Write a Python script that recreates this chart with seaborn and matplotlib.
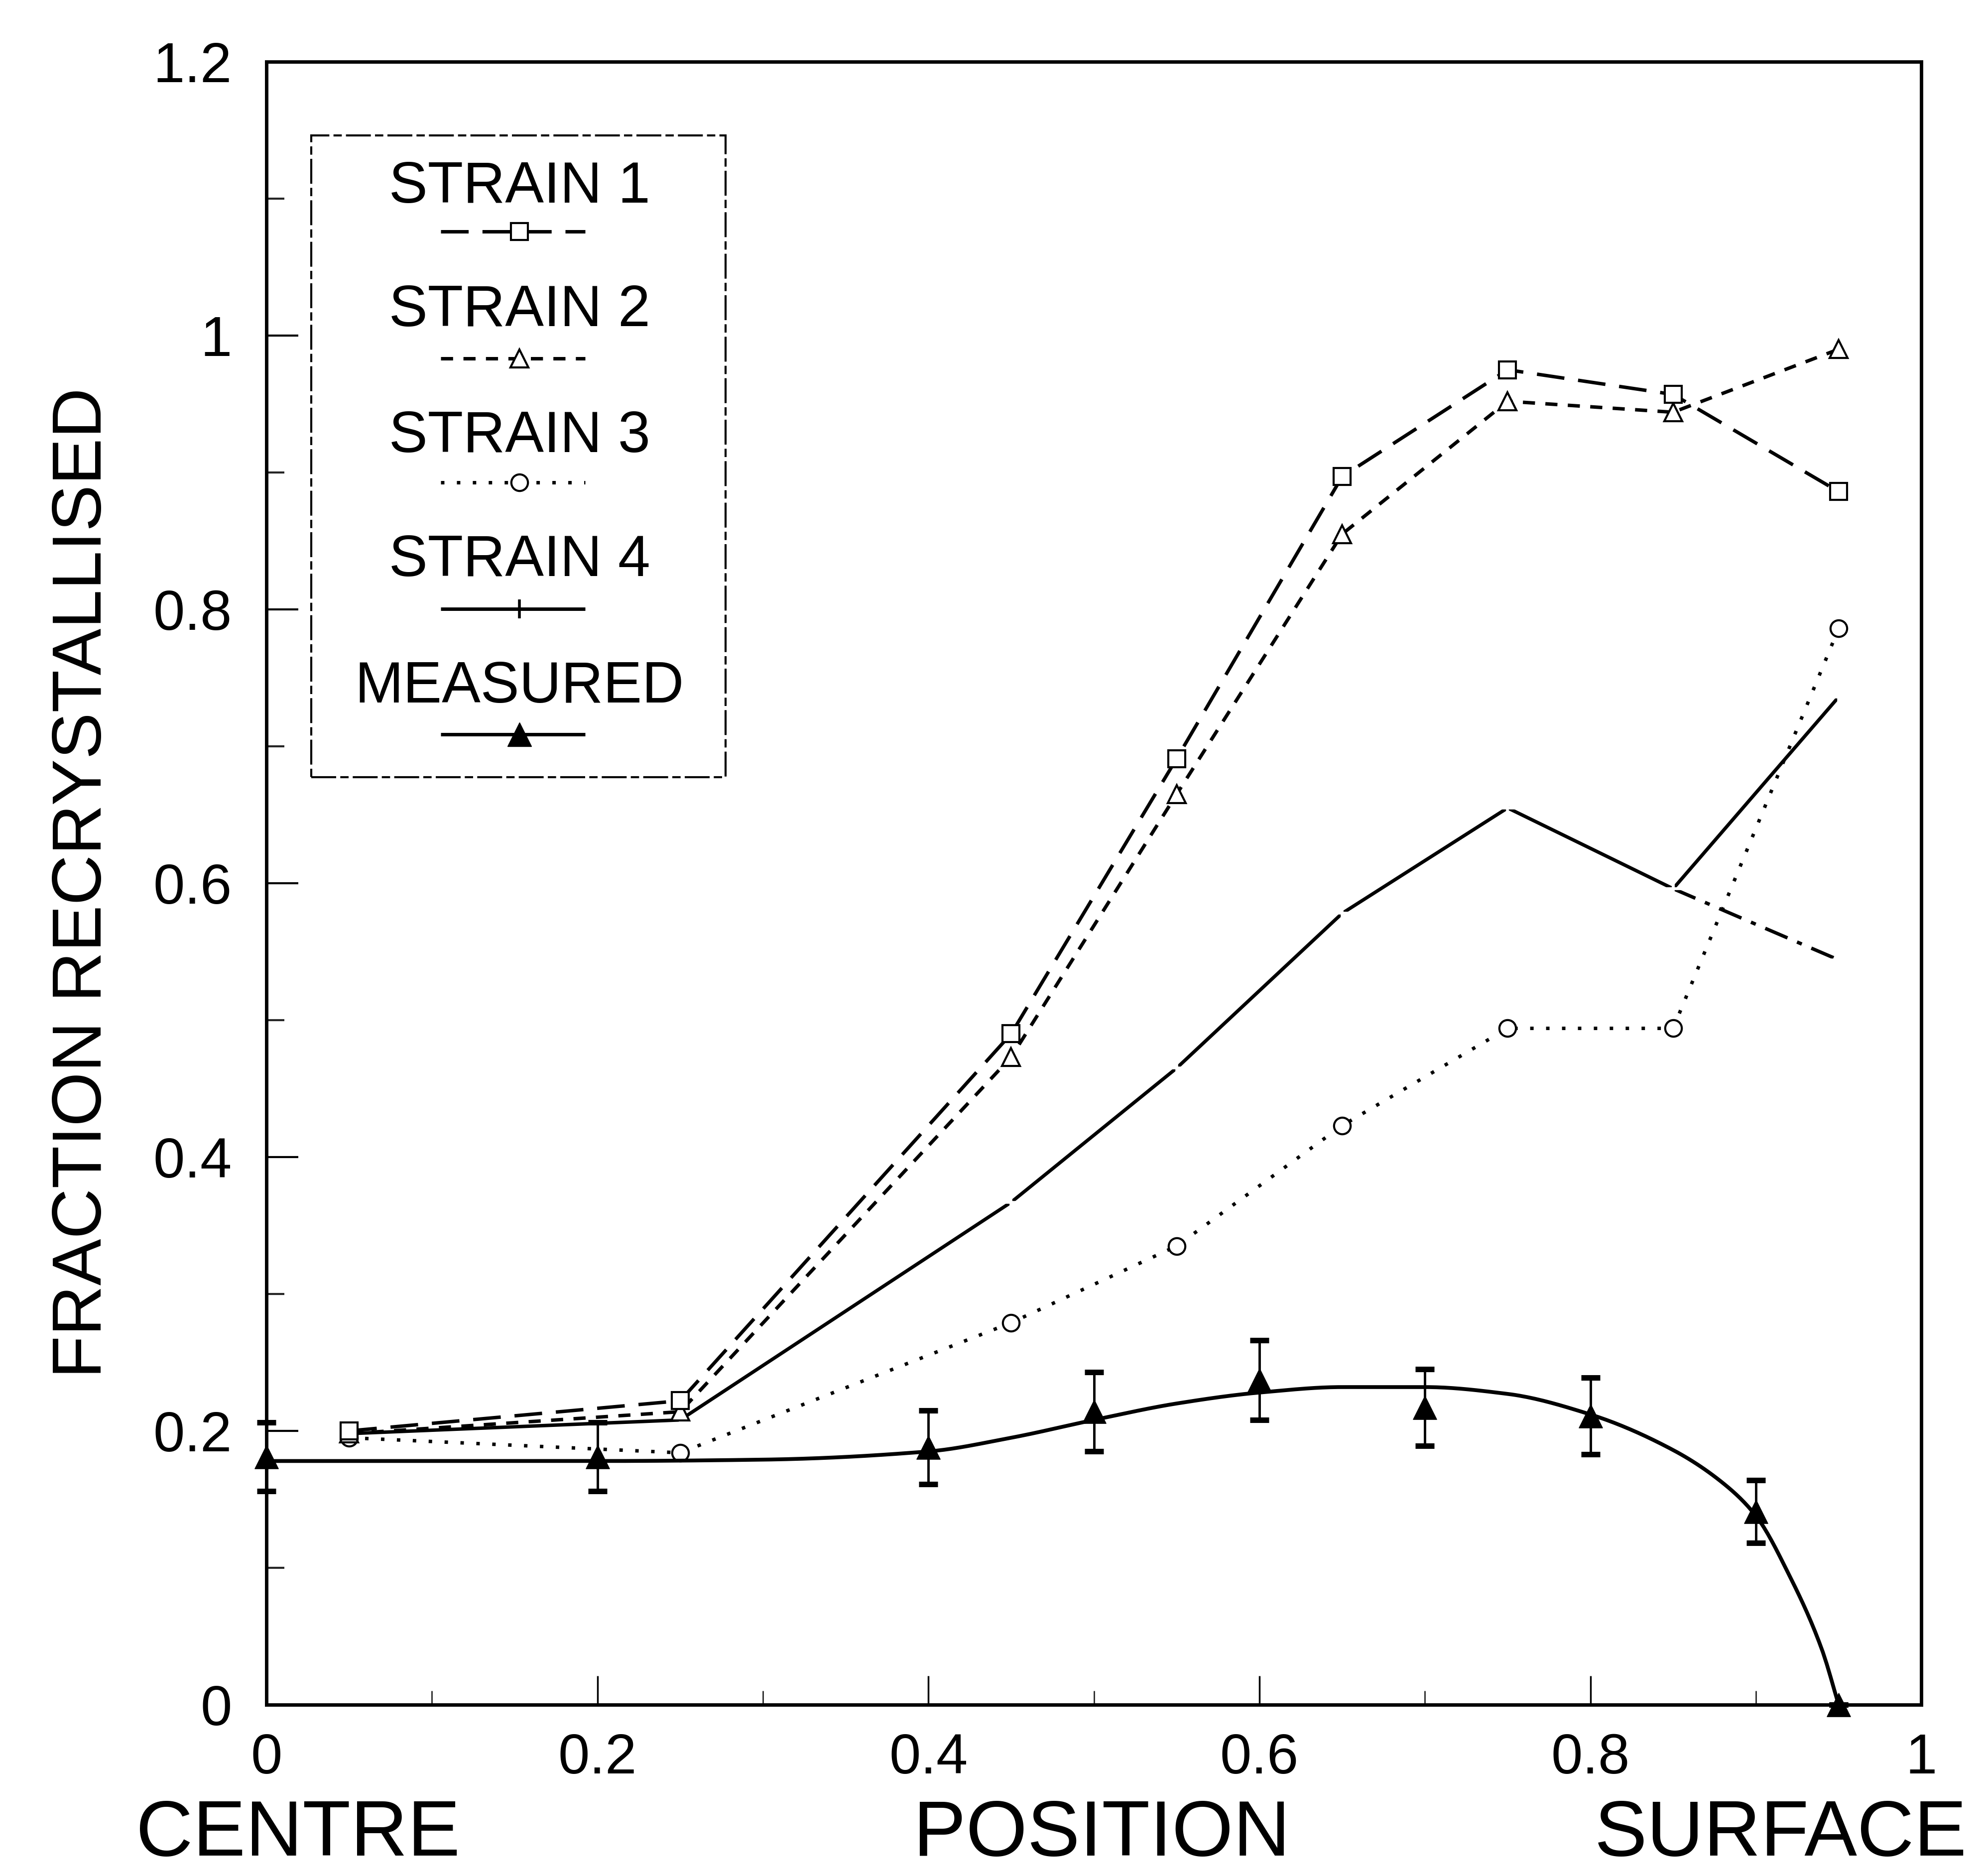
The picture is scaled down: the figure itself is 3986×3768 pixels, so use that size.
import numpy as np
import pandas as pd
import matplotlib
matplotlib.use("Agg")
import matplotlib.pyplot as plt
from matplotlib import font_manager
from matplotlib.patches import Rectangle
from matplotlib.lines import Line2D
import seaborn as sns

# ---- data -------------------------------------------------------------
strain_pos = [0.05, 0.25, 0.45, 0.55, 0.65, 0.75, 0.85, 0.95]
strain1 = [0.200, 0.222, 0.490, 0.691, 0.897, 0.975, 0.957, 0.886]
strain2 = [0.198, 0.214, 0.473, 0.665, 0.855, 0.952, 0.944, 0.990]
strain3 = [0.195, 0.184, 0.279, 0.335, 0.423, 0.494, 0.494, 0.786]
strain4 = [0.198, 0.208, 0.367, 0.465, 0.578, 0.655, 0.596, 0.736]

# alternative final segment of strain 4 (dash-dot)
strain4_alt_pos = [0.85, 0.95]
strain4_alt = [0.596, 0.544]

meas_pos = [0.0, 0.2, 0.4, 0.5, 0.6, 0.7, 0.8, 0.9, 0.95]
meas_frac = [0.181, 0.181, 0.188, 0.214, 0.237, 0.217, 0.211, 0.141, 0.0]
meas_err = [0.025, 0.025, 0.027, 0.029, 0.029, 0.028, 0.028, 0.023, 0.0]

# smooth fitted curve through the measurements (knots of the fit)
fit_pos = [0.0, 0.2, 0.3, 0.4, 0.45, 0.5, 0.55, 0.6, 0.65, 0.7, 0.75, 0.8,
           0.85, 0.88, 0.9, 0.92, 0.94, 0.95]
fit_frac = [0.178, 0.178, 0.179, 0.185, 0.195, 0.208, 0.220, 0.228, 0.232,
            0.232, 0.227, 0.212, 0.186, 0.162, 0.138, 0.095, 0.040, 0.0]

x_ticks = [0, 0.2, 0.4, 0.6, 0.8, 1.0]
x_tick_labels = ["0", "0.2", "0.4", "0.6", "0.8", "1"]
y_ticks = [0, 0.2, 0.4, 0.6, 0.8, 1.0, 1.2]
y_tick_labels = ["0", "0.2", "0.4", "0.6", "0.8", "1", "1.2"]

legend_labels = ["STRAIN 1", "STRAIN 2", "STRAIN 3", "STRAIN 4", "MEASURED"]


def pchip(x, y, xs):
    """Shape-preserving cubic Hermite interpolation."""
    x = np.asarray(x, float)
    y = np.asarray(y, float)
    h = np.diff(x)
    d = np.diff(y) / h
    m = np.zeros_like(y)
    m[0], m[-1] = d[0], d[-1]
    for k in range(1, len(x) - 1):
        if d[k - 1] * d[k] <= 0:
            m[k] = 0.0
        else:
            w1 = 2 * h[k] + h[k - 1]
            w2 = h[k] + 2 * h[k - 1]
            m[k] = (w1 + w2) / (w1 / d[k - 1] + w2 / d[k])
    idx = np.clip(np.searchsorted(x, xs) - 1, 0, len(x) - 2)
    t = (xs - x[idx]) / h[idx]
    h00 = 2 * t**3 - 3 * t**2 + 1
    h10 = t**3 - 2 * t**2 + t
    h01 = -2 * t**3 + 3 * t**2
    h11 = t**3 - t**2
    return (h00 * y[idx] + h10 * h[idx] * m[idx]
            + h01 * y[idx + 1] + h11 * h[idx] * m[idx + 1])


# ---- style ------------------------------------------------------------
sns.set_theme(style="white")
plt.rcParams["font.family"] = ["Liberation Sans", "DejaVu Sans"]

available = {f.name for f in font_manager.fontManager.ttflist}
if "Liberation Sans Narrow" in available:
    ylabel_family, ylabel_size = ["Liberation Sans Narrow", "Liberation Sans"], 121
else:
    ylabel_family, ylabel_size = ["Liberation Sans", "DejaVu Sans"], 101

fig = plt.figure(figsize=(39.87, 37.68), dpi=100)
ax = fig.add_axes([0.1342, 0.0913, 0.8335, 0.8758])

LW = 5
common = dict(ax=ax, color="black", linewidth=LW, clip_on=False,
              legend=False, sort=False)

s1 = dict(marker="s", markersize=24, markerfacecolor="white",
          markeredgecolor="black", markeredgewidth=3, dashes=(8, 4))
s2 = dict(marker="^", markersize=26, markerfacecolor="white",
          markeredgecolor="black", markeredgewidth=3, dashes=(3.5, 3))
s3 = dict(marker="o", markersize=24, markerfacecolor="white",
          markeredgecolor="black", markeredgewidth=3, dashes=(1, 3.6))
s4 = dict(marker="+", markersize=28, markeredgewidth=4, dashes=(1, 0))
sm = dict(marker="^", markersize=34, markerfacecolor="black",
          markeredgecolor="black", dashes=(1, 0))

df = pd.DataFrame({"pos": strain_pos, "s1": strain1, "s2": strain2,
                   "s3": strain3, "s4": strain4})

sns.lineplot(data=df, x="pos", y="s3", **common, **s3)
sns.lineplot(data=df, x="pos", y="s4", **common, **s4)
sns.lineplot(x=strain4_alt_pos, y=strain4_alt, ax=ax, color="black",
             linewidth=LW, dashes=(7, 3, 1.5, 3), marker="+", markersize=28,
             markeredgewidth=4, legend=False, sort=False)
sns.lineplot(data=df, x="pos", y="s2", **common, **s2)
sns.lineplot(data=df, x="pos", y="s1", **common, **s1)

# measured values: fitted curve, error bars and points
fit_x = np.linspace(fit_pos[0], fit_pos[-1], 400)
fit_y = pchip(fit_pos, fit_frac, fit_x)
sns.lineplot(x=fit_x, y=fit_y, ax=ax, color="black", linewidth=5.5,
             legend=False, sort=False, clip_on=False)
ax.errorbar(meas_pos, meas_frac, yerr=meas_err, fmt="none", ecolor="black",
            elinewidth=3.5, capsize=14, capthick=8, clip_on=False)
sns.scatterplot(x=meas_pos, y=meas_frac, ax=ax, marker="^", s=34**2,
                color="black", edgecolor="black", linewidth=1,
                legend=False, clip_on=False, zorder=5)

# ---- axes ---------------------------------------------------------------
ax.set_xlim(0, 1)
ax.set_ylim(0, 1.2)
for sp in ax.spines.values():
    sp.set_visible(True)
    sp.set_color("black")
    sp.set_linewidth(5)

ax.set_xticks(x_ticks)
ax.set_xticklabels(x_tick_labels)
ax.set_yticks(y_ticks)
ax.set_yticklabels(y_tick_labels)
ax.set_xticks(np.arange(0.1, 1.0, 0.2), minor=True)
ax.set_yticks(np.arange(0.1, 1.2, 0.2), minor=True)
ax.tick_params(axis="y", which="major", direction="in", length=46, width=3,
               left=True, right=False, pad=50, labelsize=82, colors="black")
ax.tick_params(axis="y", which="minor", direction="in", length=26, width=3,
               left=True, right=False)
ax.tick_params(axis="x", which="major", direction="in", length=42, width=2.5,
               bottom=True, top=False, pad=40, labelsize=82, colors="black")
ax.tick_params(axis="x", which="minor", direction="in", length=20, width=2,
               bottom=True, top=False)
ax.set_xlabel("")
ax.set_ylabel("")
ax.grid(False)

fig.text(0.0419, 0.5295, "FRACTION RECRYSTALLISED", rotation=90,
         ha="center", va="center", fontsize=ylabel_size,
         family=ylabel_family, color="black")
for txt, xf in [("CENTRE", 0.150), ("POSITION", 0.555), ("SURFACE", 0.897)]:
    fig.text(xf, 0.002, txt, ha="center", va="bottom", fontsize=114,
             color="black")

# ---- legend box (labels above their sample lines) -----------------------
box_x0, box_y0, box_x1, box_y1 = 0.027, 0.5645, 0.2775, 0.955
ax.add_patch(Rectangle((box_x0, box_y0), box_x1 - box_x0, box_y1 - box_y0,
                       transform=ax.transAxes, fill=False, edgecolor="black",
                       linewidth=3, linestyle=(0, (12, 2, 4, 2)), zorder=6))
label_y = [0.9236, 0.8482, 0.7718, 0.6961, 0.6191]
line_y = [0.8967, 0.8194, 0.7439, 0.6670, 0.5906]
styles = [s1, s2, s3, s4, sm]
cx, lx0, lx1 = 0.153, 0.1053, 0.1926
for lab, ty, ly, st in zip(legend_labels, label_y, line_y, styles):
    ax.text(cx, ty, lab, transform=ax.transAxes, ha="center", va="center",
            fontsize=84, color="black", zorder=7)
    kw = {k: v for k, v in st.items() if k not in ("marker", "dashes")}
    ax.add_line(Line2D([lx0, lx1], [ly, ly], transform=ax.transAxes,
                       color="black", linewidth=LW, dashes=st["dashes"],
                       zorder=7))
    ax.add_line(Line2D([cx], [ly], transform=ax.transAxes, color="black",
                       linestyle="none", marker=st["marker"], zorder=8, **kw))

fig.savefig("out.png", dpi=100, facecolor="white")
